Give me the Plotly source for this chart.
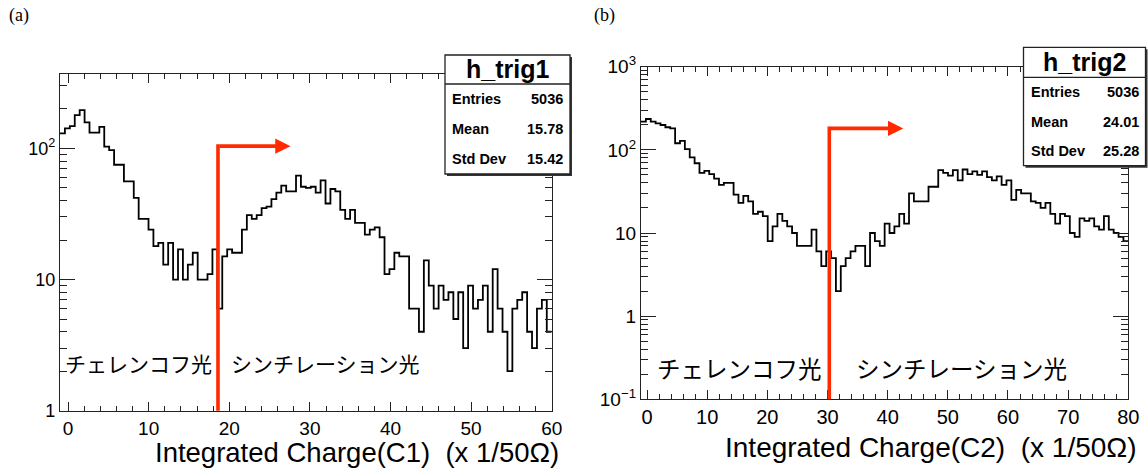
import numpy as np
import plotly.graph_objects as go

# ---------------- data ----------------
# panel (a): 100 bins from -1 to 60
BIN_RANGE1 = (-1.0, 60.0)
COUNTS1 = [130, 142, 148, 179, 196, 158, 132, 132, 146, 103,
           97, 75, 75, 56, 56, 42, 29, 29, 24, 18,
           19, 13, 19, 10, 17, 10, 13, 16, 10, 10,
           11, 17, 6, 15, 17, 16, 16, 24, 31, 29,
           31, 35, 36, 41, 46, 52, 47, 47, 62, 51,
           50, 51, 46, 57, 38, 49, 47, 34, 29, 34,
           27, 27, 22, 24, 25, 21, 11, 12, 16, 15,
           15, 6, 6, 4, 14, 9, 6, 9, 7, 8,
           5, 8, 3, 9, 6, 7, 9, 4, 12, 6,
           4, 2, 6, 7, 8, 4, 3, 6, 7, 4]
# panel (b): 100 bins from -1 to 80
BIN_RANGE2 = (-1.0, 80.0)
COUNTS2 = [218, 235, 218, 208, 199, 187, 181, 120, 128, 102,
           81, 69, 53, 56, 51, 45, 38, 40, 40, 29,
           23, 28, 24, 17, 18, 16, 8, 12, 17, 14,
           12, 10, 7, 7, 7, 11, 6, 4, 6, 5,
           2, 4, 5, 6, 7, 7, 4, 10, 8, 7,
           13, 10, 12, 17, 13, 30, 24, 24, 24, 36,
           36, 57, 53, 49, 57, 43, 58, 51, 55, 50,
           55, 47, 43, 48, 38, 43, 25, 33, 30, 30,
           24, 23, 20, 23, 17, 13, 17, 16, 10, 9,
           15, 14, 15, 12, 11, 16, 11, 10, 9, 8]

X_TICKS1 = [0, 10, 20, 30, 40, 50, 60]
X_TICKS2 = [0, 10, 20, 30, 40, 50, 60, 70, 80]
Y_TICKVALS1 = [1, 10, 100]
Y_TICKTEXT1 = ["1", "10", "10<sup>2</sup>"]
Y_TICKVALS2 = [0.1, 1, 10, 100, 1000]
Y_TICKTEXT2 = ["10<sup>\u22121</sup>", "1", "10", "10<sup>2</sup>", "10<sup>3</sup>"]
Y_RANGE1 = (1, 369)
Y_RANGE2 = (0.1, 1000)

STAT_LABELS = ["Entries", "Mean", "Std Dev"]
STATS1 = ["5036", "15.78", "15.42"]
STATS2 = ["5036", "24.01", "25.28"]
NAME1, NAME2 = "h_trig1", "h_trig2"
XTITLE1 = "Integrated Charge(C1) \u00a0(x 1/50\u03a9)"
XTITLE2 = "Integrated Charge(C2) \u00a0(x 1/50\u03a9)"
LABEL_CHER = "チェレンコフ光"
LABEL_SCIN = "シンチレーション光"

# cut arrows (x of cut, height of arrow, x of arrow tip)
CUT1, ARROW_Y1, ARROW_TIP1 = 18.6, 104, 27.6
CUT2, ARROW_Y2, ARROW_TIP2 = 30.3, 181, 42.6

# ---------------- layout constants ----------------
W, H = 1148, 471
RED = "#ff2a00"
FONT = "Liberation Sans, Arial, Helvetica, sans-serif"
JFONT = "Noto Sans CJK JP"


def px(x):
    return x / W


def py(y):
    return 1 - y / H


def step_xy(counts, rng):
    edges = np.linspace(rng[0], rng[1], len(counts) + 1)
    xs = list(edges)
    ys = list(counts) + [counts[-1]]
    return xs, ys


fig = go.Figure()
x1, y1 = step_xy(COUNTS1, BIN_RANGE1)
x2, y2 = step_xy(COUNTS2, BIN_RANGE2)
fig.add_trace(go.Scatter(x=x1, y=y1, mode="lines", line=dict(shape="hv", color="black", width=1.8),
                         xaxis="x", yaxis="y", hoverinfo="skip", showlegend=False))
fig.add_trace(go.Scatter(x=x2, y=y2, mode="lines", line=dict(shape="hv", color="black", width=1.8),
                         xaxis="x2", yaxis="y2", hoverinfo="skip", showlegend=False))

# plot frames in pixels
F1 = dict(l=60, r=551.7, t=74, b=410.7)
F2 = dict(l=641, r=1128.3, t=66.7, b=399.3)


def minor_log(lo, hi):
    vals = []
    for e in range(-2, 4):
        for m in range(2, 10):
            v = m * 10 ** e
            if lo < v < hi:
                vals.append(v)
    return vals


common_x = dict(showline=True, linecolor="#222", linewidth=1.3, mirror="ticks", ticks="inside",
                ticklen=9, tickwidth=1.2, tickcolor="#222", showgrid=False, zeroline=False,
                automargin=False,
                minor=dict(ticks="inside", ticklen=5, tickwidth=1.1, tickcolor="#222", dtick=2, tick0=0,
                           showgrid=False))
common_y = dict(type="log", showline=True, linecolor="#222", linewidth=1.3, mirror="ticks", ticks="inside",
                ticklen=15, tickwidth=1.2, tickcolor="#222", showgrid=False, zeroline=False,
                automargin=False)

fig.update_layout(
    template="none",
    width=W, height=H, margin=dict(l=0, r=0, t=0, b=0, autoexpand=False),
    paper_bgcolor="white", plot_bgcolor="white",
    xaxis=dict(domain=[px(F1["l"]), px(F1["r"])], range=list(BIN_RANGE1), anchor="y",
               tickvals=X_TICKS1, tickfont=dict(family=FONT, size=19, color="black"), **common_x),
    yaxis=dict(domain=[py(F1["b"]), py(F1["t"])], range=[np.log10(Y_RANGE1[0]), np.log10(Y_RANGE1[1])],
               anchor="x", tickvals=Y_TICKVALS1, ticktext=Y_TICKTEXT1,
               tickfont=dict(family=FONT, size=18, color="black"),
               minor=dict(ticks="inside", ticklen=7, tickwidth=1.1, tickcolor="#222",
                          tickvals=minor_log(*Y_RANGE1), showgrid=False),
               **common_y),
    xaxis2=dict(domain=[px(F2["l"]), px(F2["r"])], range=list(BIN_RANGE2), anchor="y2",
                tickvals=X_TICKS2, tickfont=dict(family=FONT, size=20, color="black"), **common_x),
    yaxis2=dict(domain=[py(F2["b"]), py(F2["t"])], range=[np.log10(Y_RANGE2[0]), np.log10(Y_RANGE2[1])],
                anchor="x2", tickvals=Y_TICKVALS2, ticktext=Y_TICKTEXT2,
                tickfont=dict(family=FONT, size=19, color="black"),
                minor=dict(ticks="inside", ticklen=7, tickwidth=1.1, tickcolor="#222",
                           tickvals=minor_log(*Y_RANGE2), showgrid=False),
                **common_y),
)

shapes = []
annots = []


def add_arrow(xa, ya, cut, ytop, tip, yrange, frame):
    span = np.log10(yrange[1]) - np.log10(yrange[0])
    frac = (np.log10(ytop) - np.log10(yrange[0])) / span
    extra = 1.8 / (frame["b"] - frame["t"])
    shapes.append(dict(type="line", xref=xa, yref=ya + " domain", x0=cut, x1=cut, y0=0, y1=frac + extra,
                       line=dict(color=RED, width=3.6), layer="above"))
    annots.append(dict(xref=xa, yref=ya, x=tip, y=np.log10(ytop), axref=xa, ayref=ya,
                       ax=cut, ay=np.log10(ytop), text="", showarrow=True, arrowhead=2,
                       arrowsize=0.85, arrowwidth=3.6, arrowcolor=RED))


add_arrow("x", "y", CUT1, ARROW_Y1, ARROW_TIP1, Y_RANGE1, F1)
add_arrow("x2", "y2", CUT2, ARROW_Y2, ARROW_TIP2, Y_RANGE2, F2)


def add_stats(box, name, vals):
    l, r, t, b, div = box
    shapes.append(dict(type="rect", xref="paper", yref="paper", x0=px(l + 2), x1=px(r + 2),
                       y0=py(b + 2), y1=py(t + 2), line=dict(width=0), fillcolor="#333", layer="above"))
    shapes.append(dict(type="rect", xref="paper", yref="paper", x0=px(l), x1=px(r), y0=py(b), y1=py(t),
                       line=dict(color="#222", width=1.3), fillcolor="white", layer="above"))
    shapes.append(dict(type="line", xref="paper", yref="paper", x0=px(l), x1=px(r), y0=py(div), y1=py(div),
                       line=dict(color="#222", width=1.3), layer="above"))
    annots.append(dict(xref="paper", yref="paper", x=px((l + r) / 2), y=py((t + div) / 2), text="<b>%s</b>" % name,
                       showarrow=False, font=dict(family=FONT, size=25, color="black"),
                       xanchor="center", yanchor="middle"))
    row_h = (b - div) / 3
    for i, (lab, v) in enumerate(zip(STAT_LABELS, vals)):
        yc = div + row_h * (i + 0.5)
        annots.append(dict(xref="paper", yref="paper", x=px(l + 5), y=py(yc), text="<b>%s</b>" % lab,
                           showarrow=False, font=dict(family=FONT, size=14.5, color="black"),
                           xanchor="left", yanchor="middle"))
        annots.append(dict(xref="paper", yref="paper", x=px(r - 5), y=py(yc), text="<b>%s</b>" % v,
                           showarrow=False, font=dict(family=FONT, size=14.5, color="black"),
                           xanchor="right", yanchor="middle"))


add_stats((445, 570, 55, 174, 84), NAME1, STATS1)
add_stats((1023.5, 1145.5, 47.3, 165.7, 77.3), NAME2, STATS2)

# axis titles
annots.append(dict(xref="paper", yref="paper", x=px(561), y=py(452), text=XTITLE1, showarrow=False,
                   font=dict(family=FONT, size=27.5, color="black"), xanchor="right", yanchor="middle"))
annots.append(dict(xref="paper", yref="paper", x=px(1139), y=py(447), text=XTITLE2, showarrow=False,
                   font=dict(family=FONT, size=28, color="black"), xanchor="right", yanchor="middle"))

# Japanese labels
annots.append(dict(xref="paper", yref="paper", x=px(63), y=py(363), text=LABEL_CHER, showarrow=False,
                   font=dict(family=JFONT, size=21, color="black"), xanchor="left", yanchor="middle"))
annots.append(dict(xref="paper", yref="paper", x=px(229), y=py(363), text=LABEL_SCIN, showarrow=False,
                   font=dict(family=JFONT, size=21, color="black"), xanchor="left", yanchor="middle"))
annots.append(dict(xref="paper", yref="paper", x=px(655), y=py(368), text=LABEL_CHER, showarrow=False,
                   font=dict(family=JFONT, size=23.5, color="black"), xanchor="left", yanchor="middle"))
annots.append(dict(xref="paper", yref="paper", x=px(854), y=py(368), text=LABEL_SCIN, showarrow=False,
                   font=dict(family=JFONT, size=23.5, color="black"), xanchor="left", yanchor="middle"))

# panel letters
annots.append(dict(xref="paper", yref="paper", x=px(7), y=py(16), text="(a)", showarrow=False,
                   font=dict(family="Liberation Serif, Times New Roman, serif", size=18, color="black"),
                   xanchor="left", yanchor="middle"))
annots.append(dict(xref="paper", yref="paper", x=px(592), y=py(16), text="(b)", showarrow=False,
                   font=dict(family="Liberation Serif, Times New Roman, serif", size=18, color="black"),
                   xanchor="left", yanchor="middle"))

fig.update_layout(shapes=shapes, annotations=annots)
fig.write_html("out.html")
